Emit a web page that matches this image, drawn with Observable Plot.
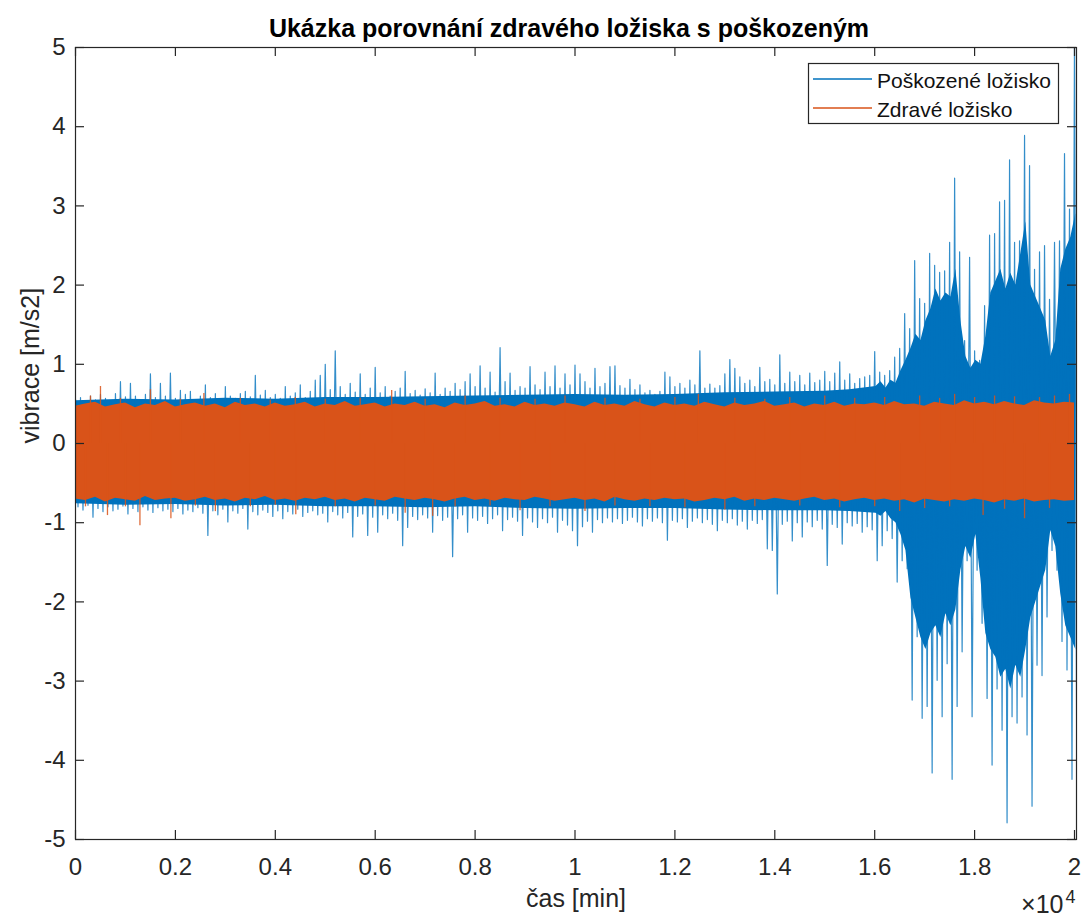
<!DOCTYPE html>
<html><head><meta charset="utf-8">
<script src="https://cdn.jsdelivr.net/npm/d3@7"></script>
<script src="https://cdn.jsdelivr.net/npm/@observablehq/plot@0.6"></script>
<style>body{margin:0;background:#fff}#chart{width:1085px;height:918px}</style>
</head><body><div id="chart"></div>
<script>
const title = "Ukázka porovnání zdravého ložiska s poškozeným";
const xLabel = "čas [min]";
const yLabel = "vibrace [m/s2]";
const seriesNames = ["Poškozené ložisko", "Zdravé ložisko"];
const xTicks = [0, 2000, 4000, 6000, 8000, 10000, 12000, 14000, 16000, 18000, 20000];
const xTickLabels = ["0", "0.2", "0.4", "0.6", "0.8", "1", "1.2", "1.4", "1.6", "1.8", "2"];
const yTicks = [-5, -4, -3, -2, -1, 0, 1, 2, 3, 4, 5];
const xExponent = "4";

// damaged bearing (blue): per-bin max / min, bins of 100 samples
const blueStep = 100;
const blueHi = [
  0.56,0.58,0.52,0.60,0.55,0.62,0.57,0.54,0.63,0.78,
  0.59,0.76,0.60,0.55,0.62,0.88,0.58,0.76,0.60,0.89,
  0.57,0.67,0.62,0.66,0.55,0.60,0.74,0.58,0.63,0.56,
  0.72,0.60,0.57,0.63,0.66,0.59,0.86,0.61,0.67,0.58,
  0.62,0.57,0.72,0.60,0.64,0.74,0.58,0.66,0.80,0.86,
  1.00,0.68,1.17,0.72,0.62,0.76,0.65,0.88,0.62,0.70,
  0.96,0.64,0.72,0.60,0.66,0.70,0.91,0.63,0.67,0.61,
  0.69,0.64,0.89,0.62,0.70,0.66,0.76,0.68,0.78,0.88,
  0.72,0.98,0.70,0.90,0.65,1.21,0.78,0.89,0.67,0.72,
  0.70,0.97,0.74,0.68,0.90,0.72,0.98,0.70,0.88,0.74,
  0.99,0.88,0.78,0.70,0.95,0.72,0.76,0.97,0.98,0.73,
  0.70,0.81,0.68,0.74,0.64,0.67,0.62,0.66,0.90,0.84,
  0.72,0.76,0.70,0.80,0.74,1.17,0.70,0.75,0.70,0.73,
  0.88,1.06,0.95,0.84,0.76,0.80,0.72,0.96,0.78,0.81,
  0.74,1.12,0.76,0.90,0.78,0.86,0.74,0.89,0.77,0.80,
  0.91,0.78,0.89,1.03,0.80,0.88,0.76,0.82,0.84,0.86,
  1.16,0.90,0.86,0.92,1.09,1.20,1.64,1.45,2.31,1.83,
  1.77,2.40,2.25,2.16,2.18,2.54,3.35,2.42,1.30,2.35,
  1.17,1.05,1.74,2.63,2.65,3.05,3.07,3.58,2.54,2.56,
  3.89,3.51,2.20,2.42,2.50,1.82,2.54,2.56,3.66,2.96,
  5.2
];
const blueLo = [
  -0.80,-0.84,-0.78,-0.93,-0.82,-0.86,-0.80,-0.85,-0.83,-0.79,
  -0.89,-0.82,-0.86,-0.80,-0.84,-0.87,-0.81,-0.85,-0.83,-0.86,
  -0.82,-0.89,-0.84,-0.86,-0.81,-0.88,-1.16,-0.85,-0.90,-0.83,
  -0.99,-0.85,-0.88,-0.82,-1.08,-0.86,-0.90,-0.84,-0.87,-0.92,
  -0.85,-0.95,-0.86,-0.89,-0.83,-0.92,-0.87,-0.85,-0.90,-0.88,
  -0.99,-0.86,-0.90,-0.94,-0.87,-1.18,-0.92,-0.89,-1.16,-0.93,
  -1.12,-0.90,-0.95,-0.88,-0.97,-1.29,-1.06,-0.92,-0.96,-0.90,
  -0.94,-1.12,-0.91,-0.97,-0.93,-1.43,-0.95,-0.90,-1.12,-0.94,
  -0.97,-0.92,-1.01,-0.95,-0.90,-1.10,-0.96,-0.93,-0.98,-1.16,
  -0.94,-0.99,-1.06,-0.95,-1.00,-0.93,-1.12,-0.97,-1.03,-1.10,
  -1.29,-1.05,-0.98,-1.12,-0.96,-1.00,-0.94,-0.99,-0.95,-1.01,
  -0.97,-0.93,-0.99,-1.04,-0.95,-0.98,-0.94,-1.00,-1.22,-0.97,
  -0.99,-0.95,-1.06,-0.98,-0.94,-1.00,-0.96,-1.02,-1.10,-0.97,
  -1.00,-0.95,-1.03,-0.98,-1.08,-0.97,-1.01,-0.96,-1.33,-1.35,
  -1.90,-1.02,-0.98,-1.23,-1.00,-1.18,-0.99,-1.05,-0.97,-1.08,
  -1.54,-1.02,-1.06,-1.27,-1.00,-1.04,-1.01,-1.12,-1.05,-1.09,
  -1.48,-1.29,-1.10,-1.20,-1.75,-1.48,-1.58,-3.24,-2.44,-3.47,
  -3.32,-4.16,-2.99,-3.45,-2.78,-4.24,-3.32,-2.63,-1.48,-3.45,
  -1.60,-2.27,-3.22,-4.06,-3.10,-3.62,-4.79,-3.45,-3.53,-3.20,
  -3.68,-4.58,-2.80,-2.93,-2.19,-1.35,-1.60,-2.50,-2.86,-4.24,
  -5.2
];
// solid body of the blue trace: coarse in the quiet part ...
const blueBodyT  = [0,1000,2000,3000,4000,5000,6000,7000,8000,9000,10000,11000,12000,13000,14000,15000,15500];
const blueBodyHi = [0.54,0.56,0.55,0.57,0.56,0.58,0.58,0.59,0.60,0.61,0.62,0.61,0.62,0.64,0.65,0.66,0.68];
const blueBodyLo = [-0.76,-0.78,-0.77,-0.79,-0.78,-0.80,-0.80,-0.81,-0.80,-0.82,-0.83,-0.82,-0.82,-0.84,-0.85,-0.85,-0.86];
// ... and per 100-sample bin in the damaged part (t = 16000 … 20000)
const blueBodyLateStart = 16000;
const blueBodyLateHi = [
  0.72,0.78,0.70,0.80,0.76,0.92,1.05,1.20,1.38,1.30,
  1.55,1.70,1.95,1.80,1.90,1.85,2.20,1.55,1.10,0.95,
  1.05,1.00,1.35,1.90,2.05,2.20,1.95,2.15,2.00,2.40,
  2.80,2.00,1.85,1.70,1.55,1.10,1.30,2.20,2.45,2.60,
  2.90
];
const blueBodyLateLo = [
  -0.88,-0.92,-0.86,-0.95,-1.00,-1.15,-1.35,-1.95,-2.20,-2.45,
  -2.60,-2.40,-2.30,-2.45,-2.15,-2.30,-2.10,-1.60,-1.30,-1.45,
  -1.15,-1.70,-2.40,-2.60,-2.70,-2.95,-2.85,-3.10,-2.80,-2.95,
  -2.60,-2.20,-2.00,-1.80,-1.60,-1.10,-1.30,-1.90,-2.30,-2.45,
  -2.60
];

// healthy bearing (orange): per-bin max / min, bins of 200 samples
const orangeStep = 200;
const orangeHi = [
  0.47,0.50,0.52,0.46,0.49,0.51,0.45,0.50,0.48,0.53,
  0.46,0.49,0.51,0.47,0.50,0.45,0.52,0.48,0.50,0.46,
  0.51,0.47,0.49,0.52,0.46,0.50,0.48,0.53,0.47,0.49,
  0.51,0.46,0.50,0.48,0.52,0.47,0.49,0.45,0.51,0.48,
  0.50,0.53,0.47,0.49,0.46,0.52,0.48,0.50,0.47,0.51,
  0.49,0.46,0.52,0.48,0.50,0.47,0.53,0.49,0.46,0.51,
  0.48,0.50,0.47,0.52,0.49,0.46,0.51,0.48,0.50,0.53,
  0.47,0.49,0.51,0.46,0.50,0.48,0.52,0.47,0.50,0.49,
  0.51,0.48,0.53,0.49,0.50,0.47,0.52,0.50,0.48,0.54,
  0.50,0.52,0.49,0.53,0.50,0.48,0.54,0.51,0.50,0.52,
  0.51
];
const orangeLo = [
  -0.70,-0.72,-0.68,-0.74,-0.69,-0.71,-0.73,-0.67,-0.72,-0.70,
  -0.69,-0.73,-0.71,-0.68,-0.72,-0.70,-0.74,-0.69,-0.71,-0.67,
  -0.72,-0.70,-0.73,-0.69,-0.71,-0.68,-0.72,-0.70,-0.74,-0.69,
  -0.71,-0.73,-0.68,-0.70,-0.72,-0.69,-0.71,-0.74,-0.70,-0.68,
  -0.72,-0.70,-0.73,-0.69,-0.71,-0.72,-0.68,-0.70,-0.73,-0.71,
  -0.69,-0.72,-0.70,-0.74,-0.68,-0.71,-0.73,-0.70,-0.72,-0.69,
  -0.71,-0.70,-0.74,-0.72,-0.69,-0.71,-0.68,-0.73,-0.70,-0.72,
  -0.69,-0.71,-0.73,-0.70,-0.68,-0.72,-0.70,-0.74,-0.71,-0.69,
  -0.72,-0.70,-0.73,-0.71,-0.75,-0.70,-0.72,-0.74,-0.71,-0.73,
  -0.70,-0.72,-0.75,-0.71,-0.73,-0.70,-0.74,-0.72,-0.71,-0.73,
  -0.72
];
// isolated orange peaks
const orangeSpikeT = [300,500,900,1500,2100,2570,3300,3900,4400,5000,5700,6330,7000,7800,8500,9200,9800,10600,11300,12000,
  12470,13200,13800,14300,15000,15600,16200,16900,17300,17600,18000,18400,18800,19300,19600,19900,
  200,640,1000,1290,1910,2400,2800,3500,4000,4410,5200,6000,6600,7150,7600,8300,8900,9500,10200,10800,
  11500,12200,13000,13600,14500,15300,16000,16500,17000,17500,18170,18600,19000,19500];
const orangeSpikeV = [0.60,0.72,0.57,0.68,0.56,0.63,0.57,0.55,0.58,0.56,0.57,0.67,0.56,0.60,0.57,0.56,0.60,0.57,0.56,0.58,
  0.62,0.57,0.56,0.58,0.60,0.57,0.58,0.60,0.57,0.62,0.58,0.60,0.59,0.58,0.60,0.62,
  -0.80,-0.91,-0.80,-1.04,-0.95,-0.79,-0.86,-0.80,-0.78,-0.90,-0.80,-0.79,-0.88,-0.92,-0.80,-0.79,-0.85,-0.80,-0.86,-0.79,
  -0.80,-0.81,-0.84,-0.80,-0.79,-0.81,-0.80,-0.86,-0.82,-0.80,-0.91,-0.83,-0.95,-0.82];

const BLUE = "#0072BD", ORANGE = "#D95319", AXIS = "#262626";
const W = 1085, H = 918, mL = 75, mR = 9, mT = 47, mB = 79;
const frameW = W - mL - mR, frameH = H - mT - mB;

// zig-zag trace through each bin's max then min (how a dense signal is drawn)
const blueTrace = blueHi.flatMap((h, i) => [{t: i * blueStep, v: h}, {t: i * blueStep + blueStep / 2, v: blueLo[i]}]);
const blueBody = [
  ...blueBodyT.map((t, i) => ({t, hi: blueBodyHi[i], lo: blueBodyLo[i]})),
  ...blueBodyLateHi.map((h, i) => ({t: blueBodyLateStart + i * blueStep + blueStep / 4, hi: h, lo: blueBodyLateLo[i]}))
];
const orangeBins = orangeHi.map((h, i) => ({t: i * orangeStep, hi: h, lo: orangeLo[i]}));
const orangeSpikes = orangeSpikeT.map((t, i) => ({t, v: orangeSpikeV[i]}));

const plot = Plot.plot({
  width: W, height: H,
  marginLeft: mL, marginRight: mR, marginTop: mT, marginBottom: mB,
  style: {fontFamily: "'Liberation Sans', Arial, sans-serif", fontSize: "24px", color: AXIS, background: "white"},
  x: {domain: [0, 20040]},
  y: {domain: [-5, 5]},
  marks: [
    Plot.areaY(blueBody, {x: "t", y1: "lo", y2: "hi", fill: BLUE, curve: "linear", clip: true}),
    Plot.line(blueTrace, {x: "t", y: "v", stroke: BLUE, strokeWidth: 1.2, strokeOpacity: 0.8, curve: "linear", clip: true}),
    Plot.areaY(orangeBins, {x: "t", y1: "lo", y2: "hi", fill: ORANGE, curve: "linear", clip: true}),
    Plot.ruleX(orangeSpikes, {x: "t", y1: 0, y2: "v", stroke: ORANGE, strokeWidth: 1.3, strokeOpacity: 0.85, clip: true}),
    Plot.frame({stroke: AXIS, strokeWidth: 1.2}),
    Plot.ruleX(xTicks, {x: d => d, insetTop: frameH - 9, stroke: AXIS, strokeWidth: 1.2}),
    Plot.ruleX(xTicks, {x: d => d, insetBottom: frameH - 9, stroke: AXIS, strokeWidth: 1.2}),
    Plot.ruleY(yTicks, {y: d => d, insetRight: frameW - 9, stroke: AXIS, strokeWidth: 1.2}),
    Plot.ruleY(yTicks, {y: d => d, insetLeft: frameW - 9, stroke: AXIS, strokeWidth: 1.2}),
    Plot.axisX({ticks: xTicks, tickSize: 0, tickPadding: 18, tickFormat: d => xTickLabels[xTicks.indexOf(d)], label: null, fontSize: 24}),
    Plot.axisY({ticks: yTicks, tickSize: 0, tickPadding: 10, tickFormat: d => String(d), label: null, fontSize: 24}),
    Plot.text([title], {text: d => d, frameAnchor: "top", dy: -11, dx: -7, lineAnchor: "bottom", fontSize: 25, fontWeight: "bold", fill: "#000"}),
    Plot.text([xLabel], {text: d => d, frameAnchor: "bottom", dy: 67, lineAnchor: "bottom", fontSize: 25, fill: AXIS}),
    Plot.text([yLabel], {text: d => d, frameAnchor: "left", dx: -37, rotate: -90, lineAnchor: "bottom", fontSize: 25, fill: AXIS}),
    Plot.text(["×10"], {text: d => d, frameAnchor: "bottom-right", textAnchor: "end", dx: -13, dy: 73, lineAnchor: "bottom", fontSize: 25, fill: AXIS}),
    Plot.text([xExponent], {text: d => d, frameAnchor: "bottom-right", textAnchor: "end", dx: -1, dy: 63, lineAnchor: "bottom", fontSize: 18, fill: AXIS})
  ]
});
document.getElementById("chart").appendChild(plot);

// legend box
const svg = d3.select(plot);
const lg = svg.append("g").attr("font-family", "'Liberation Sans', Arial, sans-serif").attr("font-size", 21).attr("text-anchor", "start");
lg.append("rect").attr("x", 808.5).attr("y", 63.5).attr("width", 250).attr("height", 60)
  .attr("fill", "white").attr("stroke", AXIS).attr("stroke-width", 1.2);
[[BLUE, 79, 88], [ORANGE, 108, 117]].forEach(([c, ly, ty], i) => {
  lg.append("line").attr("x1", 813).attr("x2", 872).attr("y1", ly).attr("y2", ly).attr("stroke", c).attr("stroke-width", 1.5);
  lg.append("text").attr("x", 877).attr("y", ty).attr("fill", "#111").attr("text-anchor", "start").text(seriesNames[i]);
});
</script></body></html>
